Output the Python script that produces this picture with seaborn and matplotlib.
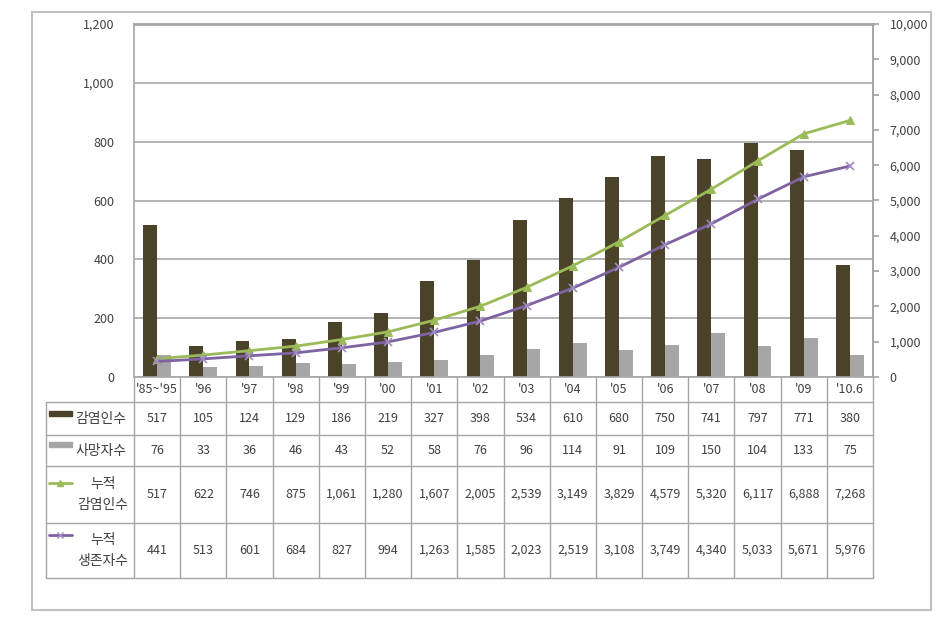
import numpy as np
import pandas as pd
import matplotlib
matplotlib.use("Agg")
import matplotlib.pyplot as plt
import seaborn as sns
from matplotlib.patches import Rectangle
from matplotlib.lines import Line2D

# ---- data ----
categories = ["'85~'95", "'96", "'97", "'98", "'99", "'00", "'01", "'02", "'03",
              "'04", "'05", "'06", "'07", "'08", "'09", "'10.6"]
infected = [517, 105, 124, 129, 186, 219, 327, 398, 534, 610, 680, 750, 741, 797, 771, 380]
deaths = [76, 33, 36, 46, 43, 52, 58, 76, 96, 114, 91, 109, 150, 104, 133, 75]
cum_infected = [517, 622, 746, 875, 1061, 1280, 1607, 2005, 2539, 3149, 3829, 4579, 5320, 6117, 6888, 7268]
cum_survivors = [441, 513, 601, 684, 827, 994, 1263, 1585, 2023, 2519, 3108, 3749, 4340, 5033, 5671, 5976]
series_names = ["감염인수", "사망자수", "누적\n감염인수", "누적\n생존자수"]
left_ticks = [0, 200, 400, 600, 800, 1000, 1200]
right_ticks = [0, 1000, 2000, 3000, 4000, 5000, 6000, 7000, 8000, 9000, 10000]

# ---- style ----
sns.set_theme(style="white")
plt.rcParams['font.family'] = ['Noto Sans CJK KR', 'DejaVu Sans']

C_BAR = "#4b4329"
C_GRAY = "#a6a6a6"
C_GREEN = "#9bbb59"
C_PURPLE = "#7e62a1"
C_GRID = "#a6a6a6"
C_TXT = "#404040"
FS_NUM = 9
FS_KR = 10

W, H = 950, 641
fig = plt.figure(figsize=(W / 100, H / 100), dpi=100)

L, R, T, B = 134, 873, 24, 377
TB = 578
ax = fig.add_axes([L / W, 1 - B / H, (R - L) / W, (B - T) / H])

n = len(categories)
df = pd.DataFrame({
    "cat": categories * 2,
    "value": infected + deaths,
    "series": [series_names[0]] * n + [series_names[1]] * n,
})
sns.barplot(data=df, x="cat", y="value", hue="series", palette=[C_BAR, C_GRAY],
            width=0.6, saturation=1, ax=ax, legend=False, edgecolor="none", linewidth=0)
ax.set_xlim(-0.5, n - 0.5)
ax.set_ylim(0, 1200)
ax.set_yticks(left_ticks)
ax.set_yticklabels([f"{v:,}" for v in left_ticks], fontsize=FS_NUM, color=C_TXT)
ax.set_xticks([])
ax.set_xlabel("")
ax.set_ylabel("")
ax.yaxis.grid(True, color=C_GRID, linewidth=1.2)
ax.set_axisbelow(True)
ax.tick_params(axis="y", length=0, pad=14)
for s in ax.spines.values():
    s.set_color(C_GRID)
    s.set_linewidth(1.2)
ax.spines["top"].set_linewidth(2.0)

ax2 = ax.twinx()
xs = np.arange(n)
sns.lineplot(x=xs, y=cum_infected, ax=ax2, color=C_GREEN, marker="^", markersize=6,
             markeredgecolor=C_GREEN, linewidth=2)
sns.lineplot(x=xs, y=cum_survivors, ax=ax2, color=C_PURPLE, marker="x", markersize=6,
             markeredgecolor="#a08cc0", markeredgewidth=1.2, linewidth=2)
ax2.set_xlim(-0.5, n - 0.5)
ax2.set_ylim(0, 10000)
ax2.set_yticks(right_ticks)
ax2.set_yticklabels([f"{v:,}" for v in right_ticks], fontsize=FS_NUM, color=C_TXT)
ax2.tick_params(axis="y", length=4, color=C_GRID, direction="out", pad=8)
for s in ax2.spines.values():
    s.set_visible(False)
ax2.spines["right"].set_visible(True)
ax2.spines["right"].set_color(C_GRID)
ax2.spines["right"].set_linewidth(1.2)

# ---- data table ----
tax = fig.add_axes([L / W, 1 - TB / H, (R - L) / W, (TB - B) / H])
tax.set_xlim(-0.5, n - 0.5)
tax.set_ylim(TB, B)
tax.axis("off")
slot = (R - L) / n

def px2x(px):
    return (px - L) / slot - 0.5

rows_y = [B, 402, 435, 466, 523, 578]
lw = 1.0
for y in rows_y[1:]:
    tax.add_line(Line2D([px2x(46), n - 0.5], [y, y], color=C_GRID, lw=lw, clip_on=False))
for i in range(n + 1):
    tax.add_line(Line2D([i - 0.5, i - 0.5], [B, TB], color=C_GRID, lw=lw, clip_on=False))
tax.add_line(Line2D([px2x(46), px2x(46)], [402, TB], color=C_GRID, lw=lw, clip_on=False))

# header row (categories)
for i, c in enumerate(categories):
    tax.text(i, (B + 402) / 2, c, ha="center", va="center", fontsize=FS_NUM, color=C_TXT)

row_data = [infected, deaths, cum_infected, cum_survivors]
for r, vals in enumerate(row_data):
    yc = (rows_y[r + 1] + rows_y[r + 2]) / 2
    for i, v in enumerate(vals):
        tax.text(i, yc, f"{v:,}", ha="center", va="center", fontsize=FS_NUM, color=C_TXT)

# row labels with legend keys
lx0, lx1 = px2x(49), px2x(72)
y1 = (402 + 435) / 2
tax.add_patch(Rectangle((lx0, 411), lx1 - lx0, 5, color=C_BAR, clip_on=False))
tax.text(px2x(101), y1, series_names[0], ha="center", va="center", fontsize=FS_KR, color=C_TXT)
y2 = (435 + 466) / 2
tax.add_patch(Rectangle((lx0, 442), lx1 - lx0, 5, color=C_GRAY, clip_on=False))
tax.text(px2x(101), y2, series_names[1], ha="center", va="center", fontsize=FS_KR, color=C_TXT)
y3 = 483
tax.add_line(Line2D([lx0, lx1], [y3, y3], color=C_GREEN, lw=2, clip_on=False))
tax.add_line(Line2D([(lx0 + lx1) / 2], [y3], color=C_GREEN, marker="^", markersize=5, clip_on=False))
tax.text(px2x(103), (466 + 523) / 2, series_names[2], ha="center", va="center",
         fontsize=FS_KR, color=C_TXT, linespacing=1.6)
y4 = 535
tax.add_line(Line2D([lx0, lx1], [y4, y4], color=C_PURPLE, lw=2, clip_on=False))
tax.add_line(Line2D([(lx0 + lx1) / 2], [y4], color="#a08cc0", marker="x", markersize=5, clip_on=False))
tax.text(px2x(103), (523 + 578) / 2, series_names[3], ha="center", va="center",
         fontsize=FS_KR, color=C_TXT, linespacing=1.6)

# outer frame
fig.patches.append(Rectangle((32 / W, 1 - 610 / H), (931 - 32) / W, (610 - 12) / H,
                             transform=fig.transFigure, fill=False, edgecolor="#c0c0c0", lw=1.5))

fig.savefig("out.png", dpi=100, facecolor="white")
